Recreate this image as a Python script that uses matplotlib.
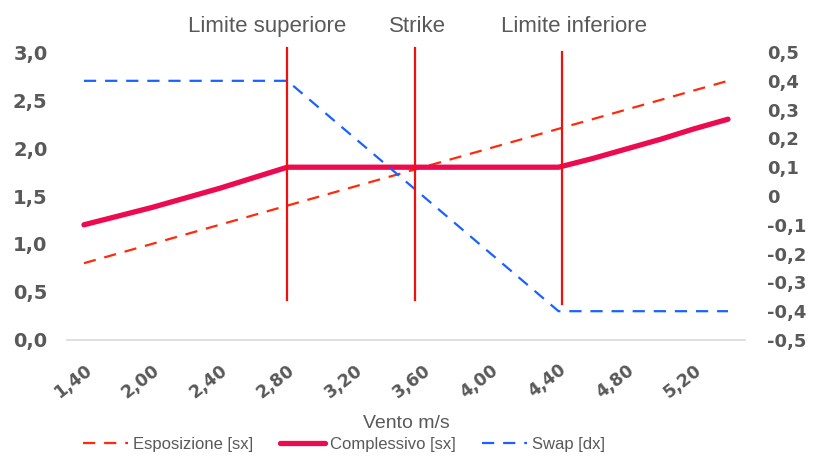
import numpy as np
import matplotlib.pyplot as plt
from matplotlib.ticker import FuncFormatter

# categorie asse x (solo una su due ha l'etichetta visibile)
vento = [1.40, 1.70, 2.00, 2.20, 2.40, 2.60, 2.80, 3.00, 3.20, 3.40,
         3.60, 3.80, 4.00, 4.20, 4.40, 4.60, 4.80, 5.00, 5.20, 5.40]
esposizione = [0.8, 0.9, 1.0, 1.1, 1.2, 1.3, 1.4, 1.5, 1.6, 1.7,
               1.8, 1.9, 2.0, 2.1, 2.2, 2.3, 2.4, 2.5, 2.6, 2.7]
complessivo = [1.2, 1.29, 1.38, 1.48, 1.58, 1.69, 1.8, 1.8, 1.8, 1.8,
               1.8, 1.8, 1.8, 1.8, 1.8, 1.89, 1.99, 2.09, 2.2, 2.3]
swap = [0.4, 0.4, 0.4, 0.4, 0.4, 0.4, 0.4, 0.3, 0.2, 0.1,
        0.0, -0.1, -0.2, -0.3, -0.4, -0.4, -0.4, -0.4, -0.4, -0.4]
soglie = ['Limite superiore', 'Strike', 'Limite inferiore']
soglie_pos = [6.0, 9.78, 14.1]   # posizione sulle categorie

grigio = '#595959'
plt.rcParams['font.family'] = ['Liberation Sans', 'DejaVu Sans']

fig = plt.figure(figsize=(8.19, 4.62), dpi=100)
ax = fig.add_axes([0.0818, 0.2641, 0.8278, 0.6233])
ax2 = ax.twinx()

x = np.arange(len(vento))
l1, = ax.plot(x, esposizione, color='#FF2A0A', lw=1.6, ls=(0, (5.5, 4)),
              label='Esposizione [sx]')
l2, = ax.plot(x, complessivo, color='#EC0A50', lw=3.8, solid_capstyle='round',
              label='Complessivo [sx]')
l3, = ax2.plot(x, swap, color='#1A62FF', lw=1.6, ls=(0, (5.5, 4)),
               label='Swap [dx]')

# linee verticali delle soglie
tops = [3.04, 3.04, 3.0]
bottoms = [0.42, 0.42, 0.37]
label_dx = [-0.6, 0.05, 0.35]
for nome, xp, y0, y1, dx in zip(soglie, soglie_pos, bottoms, tops, label_dx):
    ax2.plot([xp, xp], [y0, y1], color='#F01010', lw=1.6,
             transform=ax.transData, clip_on=False, zorder=5)
    ax.text(xp + dx, 1.09, nome, transform=ax.get_xaxis_transform(),
            ha='center', va='center', fontsize=16, color=grigio)

ax.set_xlim(-0.5, len(vento) - 0.5)
ax.set_ylim(0, 3)
ax2.set_ylim(-0.5, 0.5)

ax.set_xticks(x[::2])
ax.set_xticklabels([f'{v:.2f}'.replace('.', ',') for v in vento[::2]],
                   rotation=38, ha='right', va='top', rotation_mode='anchor',
                   fontsize=12.5, fontweight='bold', color=grigio,
                   family='DejaVu Sans')
ax.set_yticks(np.arange(0, 3.01, 0.5))
ax.yaxis.set_major_formatter(FuncFormatter(lambda v, p: f'{v:.1f}'.replace('.', ',')))
ax2.set_yticks(np.linspace(-0.5, 0.5, 11))


def fmt_dx(v, p):
    if abs(v) < 1e-9:
        return '0'
    return f'{v:.1f}'.replace('.', ',')


ax2.yaxis.set_major_formatter(FuncFormatter(fmt_dx))

for a in (ax, ax2):
    for s in a.spines.values():
        s.set_visible(False)
    a.tick_params(length=0, colors=grigio)
ax.spines['bottom'].set_visible(True)
ax.spines['bottom'].set_color('#D9D9D9')
ax.spines['bottom'].set_linewidth(1.2)
ax.tick_params(axis='y', pad=14, labelsize=14)
ax.tick_params(axis='x', pad=15)
ax2.tick_params(axis='y', pad=16, labelsize=13)
for t in ax.get_yticklabels() + ax2.get_yticklabels():
    t.set_fontweight('bold')
    t.set_color(grigio)
    t.set_family('DejaVu Sans')

ax.set_xlabel('Vento m/s', fontsize=14, color=grigio)
ax.xaxis.set_label_coords(0.50, -0.262)

fig.legend(handles=[l1, l2, l3], loc='center', bbox_to_anchor=(0.42, 0.038),
           ncol=3, frameon=False, handlelength=2.7, handletextpad=0.3,
           columnspacing=1.6, prop={'size': 12})
for t in fig.legends[0].get_texts():
    t.set_color(grigio)

plt.savefig('out.png', dpi=100)
